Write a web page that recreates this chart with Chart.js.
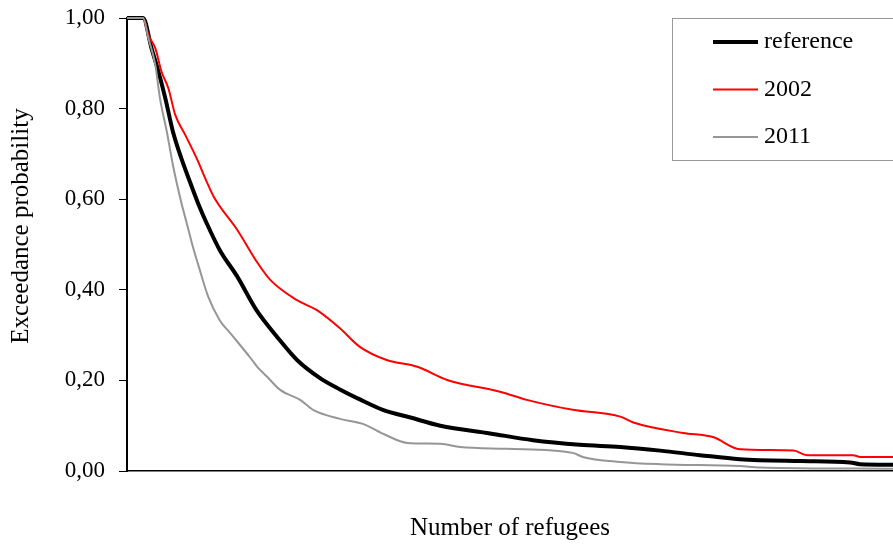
<!DOCTYPE html>
<html>
<head>
<meta charset="utf-8">
<script src="https://cdn.jsdelivr.net/npm/chart.js@4.4.1/dist/chart.umd.min.js"></script>
<style>
  html, body { margin: 0; padding: 0; background: #fff; }
  #wrap { width: 893px; height: 547px; position: relative; }
</style>
</head>
<body>
<div id="wrap"><canvas id="chart"></canvas></div>
<script>
// x is the number of refugees on an unlabelled scale (0-100), y the exceedance probability
const seriesLabels = ['reference', '2002', '2011'];

const refX = [0, 2.1, 3.2, 4.1, 5.0, 6.0, 7.1, 8.2, 9.3, 10.4,
    12.1, 14.4, 16.9, 19.6, 22.2, 25.2, 27.8, 30.4, 33.4, 37.0,
    40.9, 47.4, 53.0, 59.1, 64.4, 69.6, 74.8, 80.0, 87.9, 94.4,
    95.7, 100];
const refY = [1, 1, 0.933, 0.882, 0.823, 0.749, 0.69, 0.639, 0.59, 0.547,
    0.488, 0.429, 0.355, 0.296, 0.245, 0.205, 0.18, 0.158, 0.135, 0.118,
    0.10, 0.083, 0.068, 0.058, 0.053, 0.045, 0.035, 0.026, 0.022, 0.019,
    0.015, 0.014];

const y2002X = [0, 2.1, 2.8, 3.7, 4.5, 5.4, 6.3, 7.6, 9.1, 10.4,
    11.3, 14.4, 17.1, 18.7, 22.2, 24.8, 27.8, 30.4, 33.9, 37.9,
    41.8, 48.7, 52.2, 58.2, 64.4, 66.1, 72.6, 76.5, 80.0, 87.0,
    88.8, 94.8, 95.7, 100];
const y2002Y = [1, 1, 0.962, 0.933, 0.882, 0.845, 0.786, 0.742, 0.69, 0.639,
    0.606, 0.532, 0.458, 0.422, 0.377, 0.355, 0.315, 0.274, 0.245, 0.23,
    0.201, 0.175, 0.157, 0.135, 0.12, 0.107, 0.084, 0.075, 0.048, 0.045,
    0.035, 0.035, 0.031, 0.031];

const y2011X = [0, 2.1, 2.8, 3.7, 4.3, 5.2, 6.0, 7.1, 7.8, 8.6,
    9.5, 10.6, 12.1, 13.7, 16.1, 17.0, 18.3, 20.0, 22.6, 24.3,
    27.8, 30.8, 33.7, 36.6, 40.9, 43.5, 49.6, 58.2, 59.5, 64.4,
    69.6, 80.0, 82.6, 100];
const y2011Y = [1, 1, 0.955, 0.896, 0.823, 0.749, 0.675, 0.592, 0.547, 0.495,
    0.444, 0.385, 0.333, 0.30, 0.25, 0.23, 0.208, 0.179, 0.157, 0.135,
    0.115, 0.104, 0.08, 0.062, 0.06, 0.053, 0.049, 0.04, 0.031, 0.02,
    0.015, 0.011, 0.008, 0.005];

const yTicks = [0, 0.2, 0.4, 0.6, 0.8, 1.0];

const serif = "'Liberation Serif', 'Times New Roman', serif";

function toPoints(xs, ys) {
    return xs.map((x, i) => ({ x: x, y: ys[i] }));
}

// legend box in the top right corner, drawn from the datasets
const boxLegend = {
    id: 'boxLegend',
    afterDraw(chart) {
        const ctx = chart.ctx;
        ctx.save();
        ctx.strokeStyle = '#999999';
        ctx.lineWidth = 1;
        ctx.strokeRect(672.5, 18.5, 240, 142);
        chart.data.datasets.forEach((ds, i) => {
            const y = 42 + i * 47.5;
            ctx.beginPath();
            ctx.strokeStyle = ds.borderColor;
            ctx.lineWidth = ds.borderWidth;
            ctx.moveTo(713, y);
            ctx.lineTo(758, y);
            ctx.stroke();
            ctx.fillStyle = '#000';
            ctx.font = '24px ' + serif;
            ctx.textBaseline = 'middle';
            ctx.textAlign = 'left';
            ctx.fillText(ds.label, 764, y);
        });
        ctx.restore();
    }
};

// y axis title sits a little above the middle of the axis
const yTitle = {
    id: 'yTitle',
    afterDraw(chart) {
        const ctx = chart.ctx;
        ctx.save();
        ctx.translate(21, 226);
        ctx.rotate(-Math.PI / 2);
        ctx.fillStyle = '#000';
        ctx.font = '25px ' + serif;
        ctx.textAlign = 'center';
        ctx.textBaseline = 'middle';
        ctx.fillText('Exceedance probability', 0, 0);
        ctx.restore();
    }
};

const ctx = document.getElementById('chart').getContext('2d');
new Chart(ctx, {
    type: 'line',
    data: {
        datasets: [{
            label: seriesLabels[0],
            data: toPoints(refX, refY),
            borderColor: '#000000',
            borderWidth: 4,
            order: 2
        }, {
            label: seriesLabels[1],
            data: toPoints(y2002X, y2002Y),
            borderColor: '#ff0000',
            borderWidth: 2,
            order: 1
        }, {
            label: seriesLabels[2],
            data: toPoints(y2011X, y2011Y),
            borderColor: '#969696',
            borderWidth: 2,
            order: 0
        }]
    },
    options: {
        responsive: true,
        maintainAspectRatio: false,
        animation: false,
        layout: { padding: { top: 18, right: 0, bottom: 0, left: 0 } },
        elements: {
            point: { radius: 0 },
            line: { tension: 0, fill: false, cubicInterpolationMode: 'monotone' }
        },
        datasets: { line: { clip: false } },
        plugins: {
            legend: { display: false },
            tooltip: { enabled: false }
        },
        scales: {
            x: {
                type: 'linear',
                min: 0,
                max: 100,
                ticks: { display: false },
                grid: { display: false },
                border: { display: true, color: '#000', width: 1.5 },
                title: {
                    display: true,
                    text: 'Number of refugees',
                    color: '#000',
                    font: { family: serif, size: 25 },
                    padding: { top: 0, bottom: 4 }
                },
                afterFit(scale) { scale.height = 76; }
            },
            y: {
                min: 0,
                max: 1,
                afterBuildTicks(scale) {
                    scale.ticks = yTicks.map(v => ({ value: v }));
                },
                ticks: {
                    color: '#000',
                    padding: 14,
                    font: { family: serif, size: 23 },
                    callback: v => v.toFixed(2).replace('.', ',')
                },
                grid: {
                    drawOnChartArea: false,
                    drawTicks: true,
                    tickLength: 8,
                    tickColor: '#000',
                    lineWidth: 1
                },
                border: { display: true, color: '#000', width: 2 },
                afterFit(scale) {
                    scale.width = 127;
                    scale.paddingTop = 0;
                    scale.paddingBottom = 0;
                }
            }
        }
    },
    plugins: [boxLegend, yTitle]
});
</script>
</body>
</html>
